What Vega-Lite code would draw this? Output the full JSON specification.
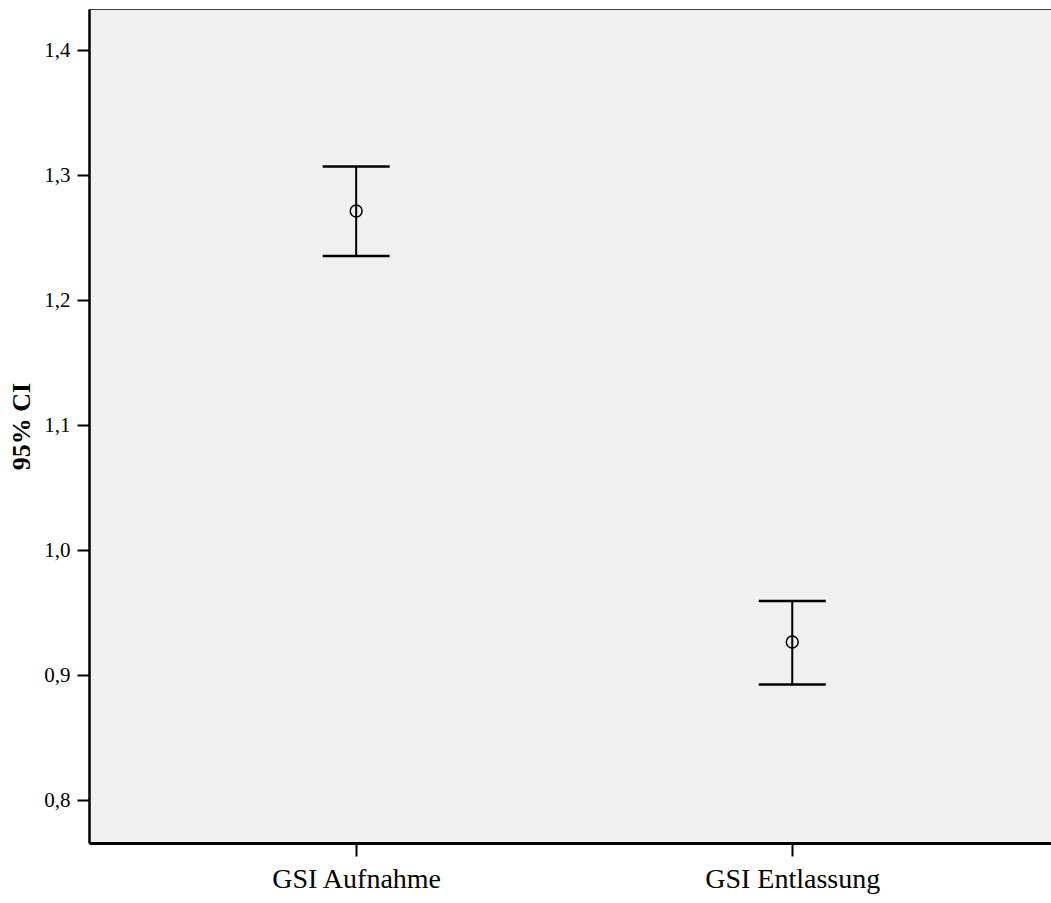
{
  "$schema": "https://vega.github.io/schema/vega-lite/v6.json",
  "autosize": "none",
  "padding": {"left": 89, "top": 9, "right": 0, "bottom": 60},
  "width": 962,
  "height": 834,
  "background": "white",
  "config": {
    "view": {"fill": "#f0f0f0", "stroke": "#444444", "strokeWidth": 1},
    "font": "Liberation Serif"
  },
  "data": {
    "values": [
      {"variable": "GSI Aufnahme", "mean": 1.2712, "lower": 1.2352, "upper": 1.3068},
      {"variable": "GSI Entlassung", "mean": 0.9264, "lower": 0.8924, "upper": 0.9592}
    ]
  },
  "encoding": {
    "x": {
      "field": "variable",
      "type": "nominal",
      "sort": null,
      "scale": {"type": "point", "padding": 0.603, "align": 0.508},
      "axis": {
        "title": null,
        "labelAngle": 0,
        "labelFont": "Liberation Serif",
        "labelFontSize": 28,
        "labelColor": "black",
        "labelPadding": 9,
        "domainColor": "black",
        "domainWidth": 3,
        "tickColor": "black",
        "tickWidth": 2,
        "tickSize": 13,
        "grid": false
      }
    }
  },
  "layer": [
    {
      "mark": {"type": "rule", "color": "black", "strokeWidth": 2},
      "encoding": {
        "y": {
          "field": "lower",
          "type": "quantitative",
          "scale": {"domain": [0.7656, 1.4328], "nice": false, "zero": false},
          "axis": {
            "title": "95% CI",
            "titleFont": "Liberation Serif",
            "titleFontSize": 26,
            "titleFontWeight": "bold",
            "titleColor": "black",
            "titlePadding": 9,
            "values": [0.8, 0.9, 1.0, 1.1, 1.2, 1.3, 1.4],
            "labelExpr": "replace(format(datum.value, '.1f'), '.', ',')",
            "labelFont": "Liberation Serif",
            "labelFontSize": 21,
            "labelColor": "black",
            "labelPadding": 7,
            "domainColor": "black",
            "domainWidth": 2.5,
            "tickColor": "black",
            "tickWidth": 2,
            "tickSize": 12,
            "grid": false
          }
        },
        "y2": {"field": "upper"}
      }
    },
    {
      "mark": {"type": "tick", "color": "black", "size": 67, "thickness": 2.5, "opacity": 1},
      "encoding": {"y": {"field": "lower", "type": "quantitative"}}
    },
    {
      "mark": {"type": "tick", "color": "black", "size": 67, "thickness": 2.5, "opacity": 1},
      "encoding": {"y": {"field": "upper", "type": "quantitative"}}
    },
    {
      "mark": {"type": "point", "shape": "circle", "filled": false, "color": "black", "size": 140, "strokeWidth": 1.5, "opacity": 1},
      "encoding": {"y": {"field": "mean", "type": "quantitative"}}
    }
  ]
}
